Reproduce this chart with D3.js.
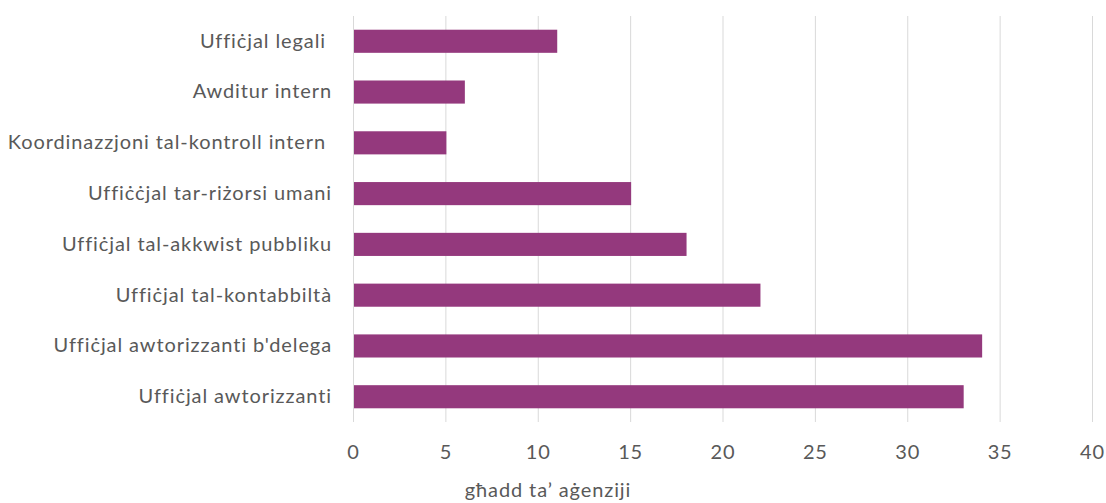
<!DOCTYPE html>
<html>
<head>
<meta charset="utf-8">
<script src="https://cdn.jsdelivr.net/npm/d3@7"></script>
<style>
  body { margin: 0; background: #fff; }
  svg text { font-family: Lato, "Open Sans", sans-serif; fill: #595959; white-space: pre; font-size: 20px; letter-spacing: 0.9px; }
</style>
</head>
<body>
<svg id="chart"></svg>
<script>
// categories, top to bottom as they appear
const categories = ['Uffiċjal legali ', 'Awditur intern', 'Koordinazzjoni tal-kontroll intern ',
                    'Uffiċċjal tar-riżorsi umani', 'Uffiċjal tal-akkwist pubbliku', 'Uffiċjal tal-kontabbiltà',
                    "Uffiċjal awtorizzanti b'delega", 'Uffiċjal awtorizzanti'];
const counts = [11, 6, 5, 15, 18, 22, 34, 33];
const xTicks = [0, 5, 10, 15, 20, 25, 30, 35, 40];
const xTitle = 'għadd ta’ aġenziji';

const W = 1106, H = 503;
const margin = {top: 16, right: 14, bottom: 81, left: 353};
const width = W - margin.left - margin.right;
const height = H - margin.top - margin.bottom;

const svg = d3.select('#chart').attr('width', W).attr('height', H);
const g = svg.append('g').attr('transform', 'translate(' + margin.left + ',' + margin.top + ')');

const x = d3.scaleLinear().domain([0, 40]).range([0, width]);
const y = d3.scaleBand().domain(categories).range([0, height]).paddingInner(0.545).paddingOuter(0.27);

// gridlines
g.selectAll('.grid')
  .data(xTicks)
  .enter()
  .append('line')
  .attr('x1', d => x(d) + 0.5).attr('x2', d => x(d) + 0.5)
  .attr('y1', 0).attr('y2', height)
  .attr('stroke', '#d9d9d9').attr('stroke-width', 1);

// bars
g.selectAll('.bar')
  .data(categories)
  .enter()
  .append('rect')
  .attr('x', x(0) + 1)
  .attr('y', d => y(d))
  .attr('width', (d, i) => x(counts[i]) - x(0))
  .attr('height', y.bandwidth())
  .attr('fill', '#94397d');

// category labels
const yAxis = g.append('g').call(d3.axisLeft(y).tickSize(0).tickPadding(21));
yAxis.select('.domain').remove();
yAxis.selectAll('text').attr('fill', null);

// x tick labels
const xAxis = g.append('g')
  .attr('transform', 'translate(0,' + height + ')')
  .call(d3.axisBottom(x).tickValues(xTicks).tickSize(0).tickPadding(23));
xAxis.select('.domain').remove();
xAxis.selectAll('text').attr('fill', null);

// axis title, centred on the whole picture
svg.append('text')
  .attr('x', 548)
  .attr('y', 497)
  .attr('text-anchor', 'middle')
  .text(xTitle);
</script>
</body>
</html>
